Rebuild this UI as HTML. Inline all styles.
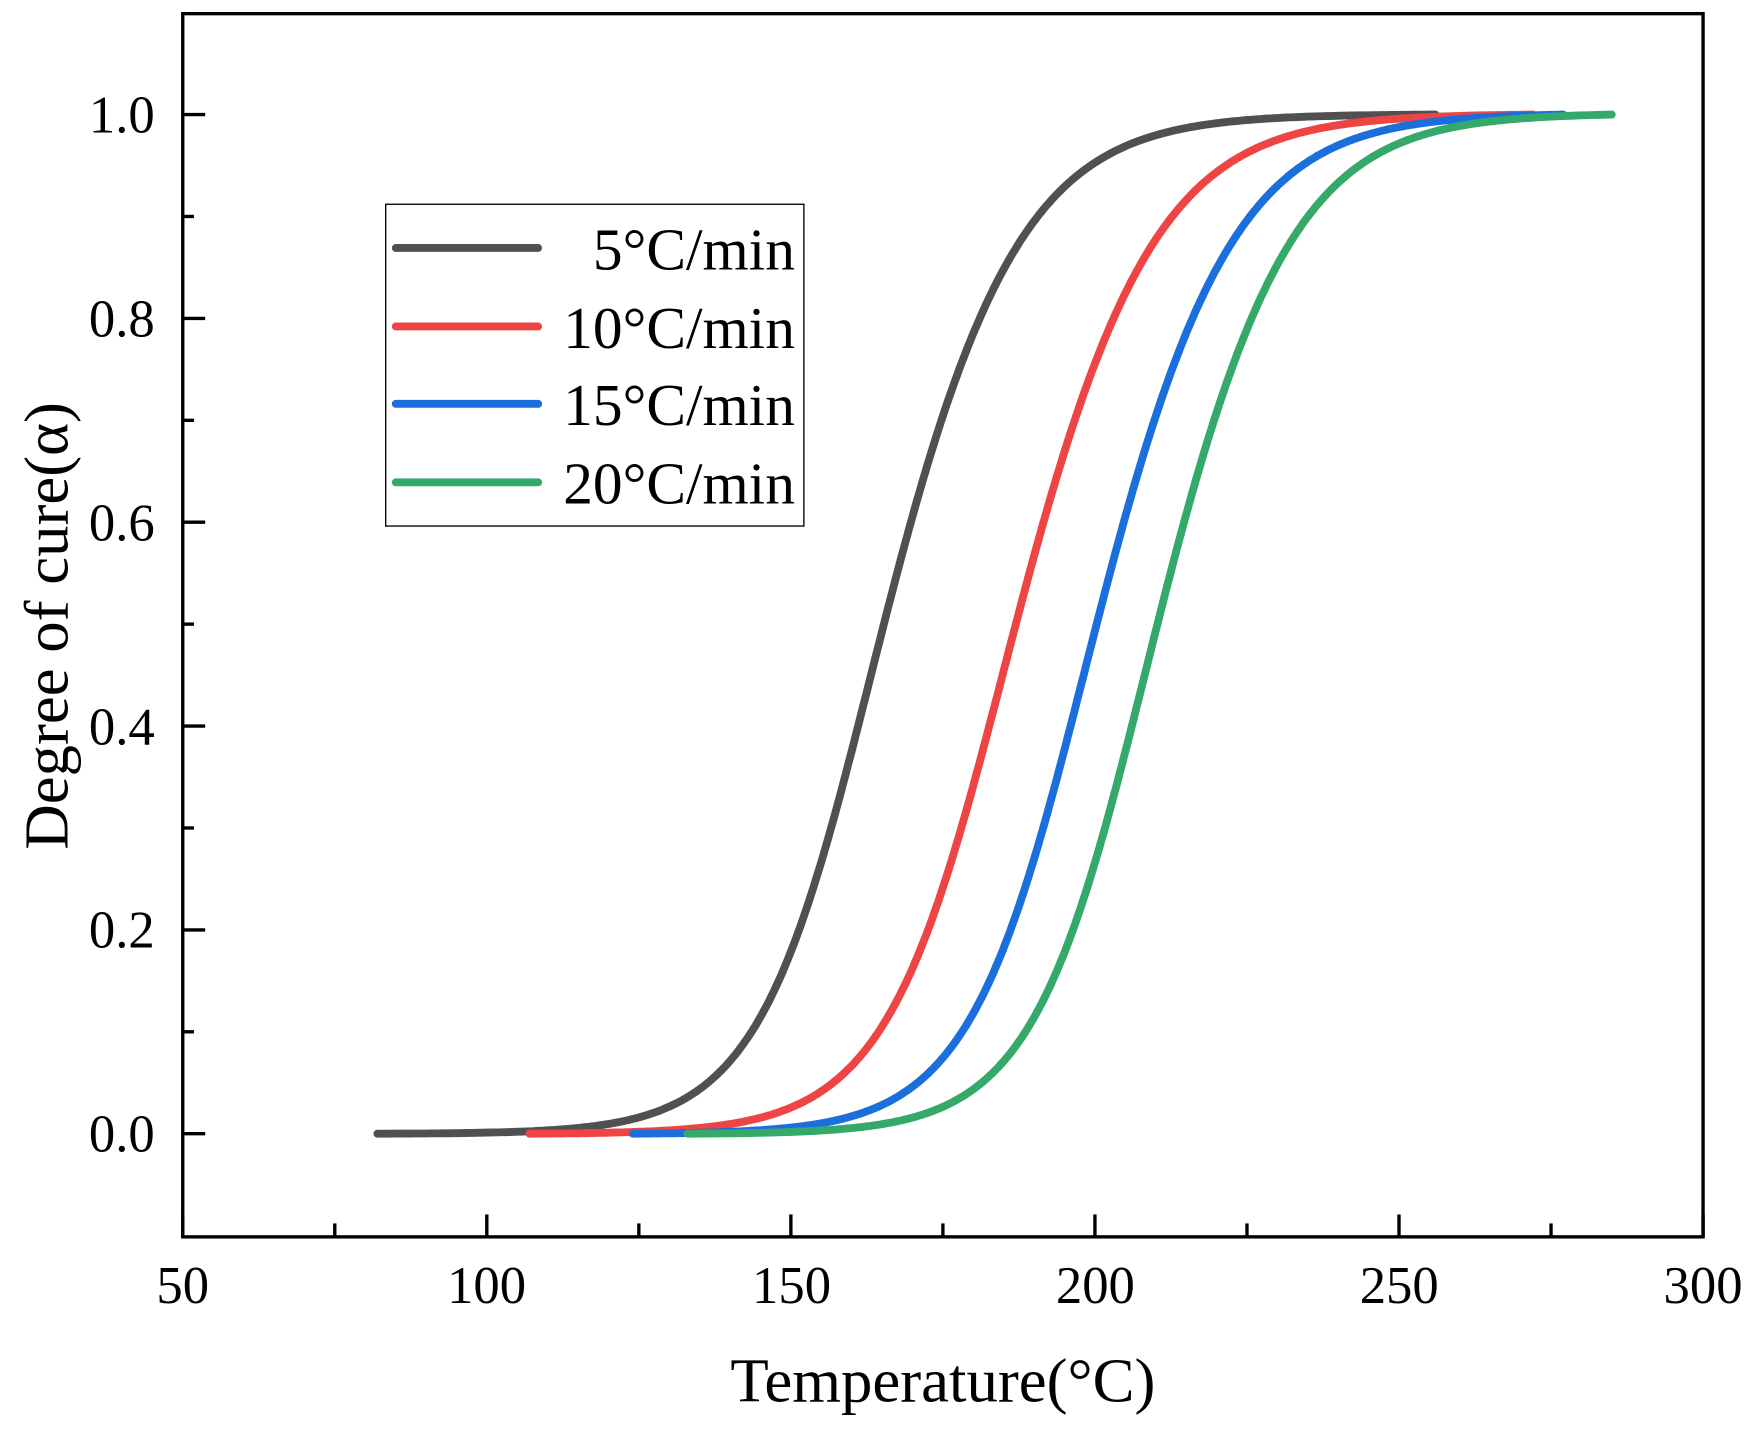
<!DOCTYPE html>
<html><head><meta charset="utf-8"><style>html,body{margin:0;padding:0;background:#fff}svg{display:block}</style></head>
<body>
<svg id="s" width="1758" height="1440" viewBox="0 0 1568 1284" xmlns="http://www.w3.org/2000/svg" font-family="'Liberation Serif', serif">
<rect width="1568" height="1284" fill="#fff"/>
<g id="curves" fill="none" stroke-width="7" stroke-linecap="round"></g>
<rect x="163" y="12" width="1356" height="1091" fill="none" stroke="#000" stroke-width="3"/>
<g id="ticks" stroke="#000" stroke-width="3"></g>
<g font-size="47" fill="#000" text-anchor="end">
<text x="138" y="1027">0.0</text><text x="138" y="845">0.2</text><text x="138" y="664">0.4</text><text x="138" y="482">0.6</text><text x="138" y="300">0.8</text><text x="138" y="118">1.0</text>
</g>
<g font-size="47" fill="#000" text-anchor="middle">
<text x="163" y="1162">50</text><text x="434" y="1162">100</text><text x="706" y="1162">150</text><text x="977" y="1162">200</text><text x="1248" y="1162">250</text><text x="1519" y="1162">300</text>
</g>
<text x="841" y="1250" font-size="56" text-anchor="middle">Temperature(°C)</text>
<text transform="translate(60,558) rotate(-90)" font-size="56" text-anchor="middle">Degree of cure(α)</text>
<rect x="344" y="182" width="373" height="287" fill="#fff" stroke="#000" stroke-width="1.2"/>
<g stroke-width="7" stroke-linecap="round">
<line x1="353" y1="221" x2="480" y2="221" stroke="#505050"/>
<line x1="353" y1="291" x2="480" y2="291" stroke="#ef4444"/>
<line x1="353" y1="360" x2="480" y2="360" stroke="#1b6fdd"/>
<line x1="353" y1="430" x2="480" y2="430" stroke="#35a96a"/>
</g>
<g font-size="53" text-anchor="end" fill="#000">
<text x="709" y="240">5°C/min</text><text x="709" y="310">10°C/min</text><text x="709" y="379">15°C/min</text><text x="709" y="449">20°C/min</text>
</g>
</svg>
<script>
const X=t=>163+(t-50)*5.424, Y=a=>1011-a*909;
const series=[["#505050",82,256,165.3,9.8,11.6],["#ef4444",107,272,187.0,10.2,11.8],["#1b6fdd",124,277,200.3,10.0,11.6],["#35a96a",133,285,210.3,9.8,11.4]];
const g=document.getElementById('curves');
for(const [c,t0,t1,m,sl,sh] of series){
 const L=t=>{const s=sl+(sh-sl)/(1+Math.exp(-(t-m)/8));return 1/(1+Math.exp(-(t-m)/s));};
 const a0=L(t0),a1=L(t1);let d="";
 for(let i=0;i<=400;i++){const t=t0+(t1-t0)*i/400;const a=(L(t)-a0)/(a1-a0);d+=(i?"L":"M")+X(t).toFixed(1)+","+Y(a).toFixed(1);}
 const p=document.createElementNS("http://www.w3.org/2000/svg","path");p.setAttribute("d",d);p.setAttribute("stroke",c);g.appendChild(p);
}
const tk=document.getElementById('ticks');let h="";
for(let t=50;t<=300;t+=25){const x=X(t);const len=(t%50==0)?20:12;h+=`<line x1="${x}" y1="1103" x2="${x}" y2="${1103-len}"/>`;}
for(let k=0;k<=10;k++){const y=Y(k/10);const len=(k%2==0)?20:10;h+=`<line x1="163" y1="${y}" x2="${163+len}" y2="${y}"/>`;}
tk.innerHTML=h;
</script>
</body></html>
